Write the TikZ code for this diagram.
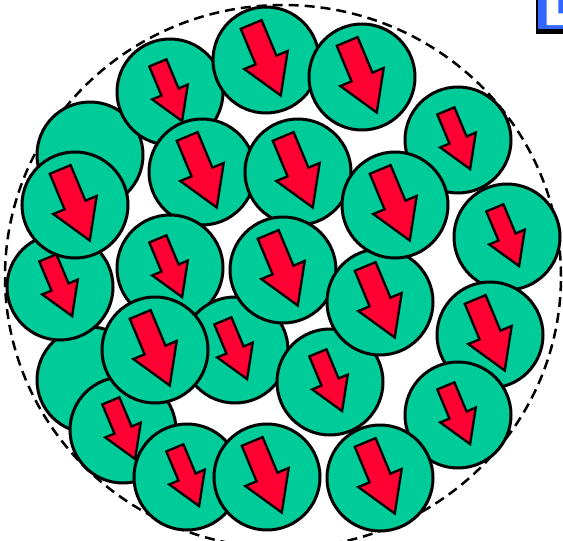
\documentclass[tikz,border=0pt]{standalone}
\usepackage{xcolor}
\usepackage{tikz}
\definecolor{diskgreen}{RGB}{0,204,153}
\definecolor{arrowred}{RGB}{255,0,51}
\definecolor{boxblue}{RGB}{51,102,255}

\tikzset{
  pics/tiltarrow/.style={code={
    \filldraw[fill=arrowred, draw=black, line width=2.3pt, line join=miter]
      (-11.3,-38.5) -- (11.3,-38.5) -- (11.3,0) -- (23.5,0) -- (0,38.5)
      -- (-23.5,0) -- (-11.3,0) -- cycle;
  }}
}

\begin{document}
\begin{tikzpicture}[
    x=1pt, y=-1pt,
    disk/.style={draw=black, line width=3pt, fill=diskgreen},
    boundary/.style={draw=black, line width=2.5pt, dash pattern=on 10pt off 6pt},
    arrowtilt/.style={rotate=22.6},
  ]
  \useasboundingbox (0,0) rectangle (563,541);
  \clip (0,0) rectangle (563,541);

  % Outer dashed boundary
  \draw[boundary] (283,276.5) ellipse [x radius=278pt, y radius=271.5pt];

  % Discs hidden behind the others
  \foreach \cx/\cy in {90/155, 90/380}
    \path[disk] (\cx,\cy) circle [radius=53pt];

  % Discs with their arrows, back to front
  \foreach \cx/\cy/\s in {170/92/0.82, 266/60/1, 362/77/1, 458/140/0.82,
      60/287/0.82, 75/205/1, 202/172/1, 298/172/1, 170/268/0.82, 235/350/0.82,
      283/270/1, 330/382/0.82, 380/302/1, 395/205/1, 507/237/0.82, 490/335/1,
      458/415/0.82, 380/478/1, 123/430/0.82, 155/350/1, 187/477/0.82, 267/477/1}
  {
    \path[disk] (\cx,\cy) circle [radius=53pt];
    \pic[arrowtilt, scale=\s] at (\cx,\cy) {tiltarrow};
  }

  % Corner box
  \fill[black] (536,0) rectangle (563,33.5);
  \fill[boxblue] (538,0) rectangle (563,29.3);
  \fill[white] (546.7,0) -- (546.7,25) -- (563,25) -- (563,13.3)
    -- (558.3,13.3) -- (558.3,0) -- cycle;
\end{tikzpicture}
\end{document}
